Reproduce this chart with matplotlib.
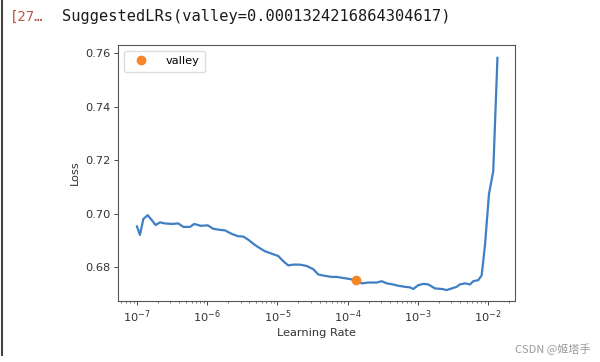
import matplotlib
matplotlib.use('Agg')

import matplotlib.pyplot as plt
from matplotlib.lines import Line2D

# learning rate exponents (log10) and smoothed loss
lr_exp = [-7.000, -6.957, -6.910, -6.848, -6.791, -6.734, -6.672, -6.601,
          -6.506, -6.412, -6.340, -6.245, -6.184, -6.088, -5.993, -5.913,
          -5.818, -5.746, -5.651, -5.557, -5.486, -5.414, -5.343, -5.272,
          -5.177, -5.081, -4.987, -4.916, -4.845, -4.774, -4.678, -4.583,
          -4.489, -4.417, -4.322, -4.226, -4.155, -4.061, -3.966, -3.885,
          -3.799, -3.705, -3.585, -3.514, -3.443, -3.372, -3.278, -3.182,
          -3.111, -3.064, -2.993, -2.922, -2.850, -2.755, -2.660, -2.588,
          -2.517, -2.446, -2.399, -2.328, -2.256, -2.209, -2.138, -2.090,
          -2.043, -1.986, -1.925, -1.865]
losses = [0.6953, 0.6921, 0.6980, 0.6995, 0.6977, 0.6958, 0.6968, 0.6964,
          0.6962, 0.6964, 0.6951, 0.6951, 0.6962, 0.6955, 0.6957, 0.6944,
          0.6940, 0.6938, 0.6925, 0.6916, 0.6915, 0.6903, 0.6888, 0.6875,
          0.6860, 0.6851, 0.6842, 0.6823, 0.6807, 0.6810, 0.6810, 0.6805,
          0.6793, 0.6773, 0.6768, 0.6764, 0.6764, 0.6760, 0.6756, 0.6752,
          0.6740, 0.6743, 0.6743, 0.6748, 0.6740, 0.6737, 0.6731, 0.6727,
          0.6725, 0.6719, 0.6733, 0.6738, 0.6736, 0.6721, 0.6719, 0.6715,
          0.6721, 0.6727, 0.6736, 0.6740, 0.6736, 0.6748, 0.6752, 0.6770,
          0.6881, 0.7073, 0.7159, 0.7583]

valley_lr = 0.0001324216864304617
valley_loss = 0.6752

lrs = [10 ** e for e in lr_exp]

fig = plt.figure(figsize=(6, 3.62), dpi=100)

# notebook cell decorations
fig.add_artist(Line2D([0.003, 0.003], [0.02, 1.0], color='#444444', linewidth=1.5,
                      transform=fig.transFigure))
fig.text(10 / 600, 1 - 17 / 362, "[27…", family='DejaVu Sans Mono', fontsize=10,
         color='#b5574c', va='center', ha='left')
fig.text(62 / 600, 1 - 17 / 362, f"SuggestedLRs(valley={valley_lr})",
         family='DejaVu Sans Mono', fontsize=11.1, color='#1a1a1a',
         va='center', ha='left')
fig.text(515 / 600, 1 - 349 / 362, "CSDN @姬塔手",
         family=['Noto Sans CJK SC', 'DejaVu Sans'], fontsize=8,
         color='#999999', va='center', ha='left')

ax = fig.add_axes([118 / 600, 1 - 301 / 362, 397 / 600, 256 / 362])

ax.plot(lrs, losses, color='#3f7fc4', linewidth=1.6)
ax.plot([valley_lr], [valley_loss], 'o', color='#f5862a', markersize=6,
        label='valley', zorder=3)

ax.set_xscale('log')
ax.set_xlim(10 ** -7.27, 10 ** -1.615)
ax.set_ylim(0.6674, 0.7631)
ax.set_yticks([0.68, 0.70, 0.72, 0.74, 0.76])

ax.set_xlabel("Learning Rate", fontsize=8.2, color='#333333', labelpad=2)
ax.set_ylabel("Loss", fontsize=8.2, color='#333333', labelpad=4)

ax.tick_params(axis='both', which='major', labelsize=8.2, labelcolor='#333333',
               length=2.8, width=0.7, color='#444444', pad=2.5)
ax.tick_params(axis='both', which='minor', length=1.6, width=0.5, color='#444444')
for sp in ax.spines.values():
    sp.set_color('#555555')
    sp.set_linewidth(0.8)

ax.legend(loc='upper left', fontsize=8.2, handletextpad=1.2, borderpad=0.5,
          framealpha=1, edgecolor='#dddddd', fancybox=True)

plt.savefig("out.png", dpi=100)
plt.close()
